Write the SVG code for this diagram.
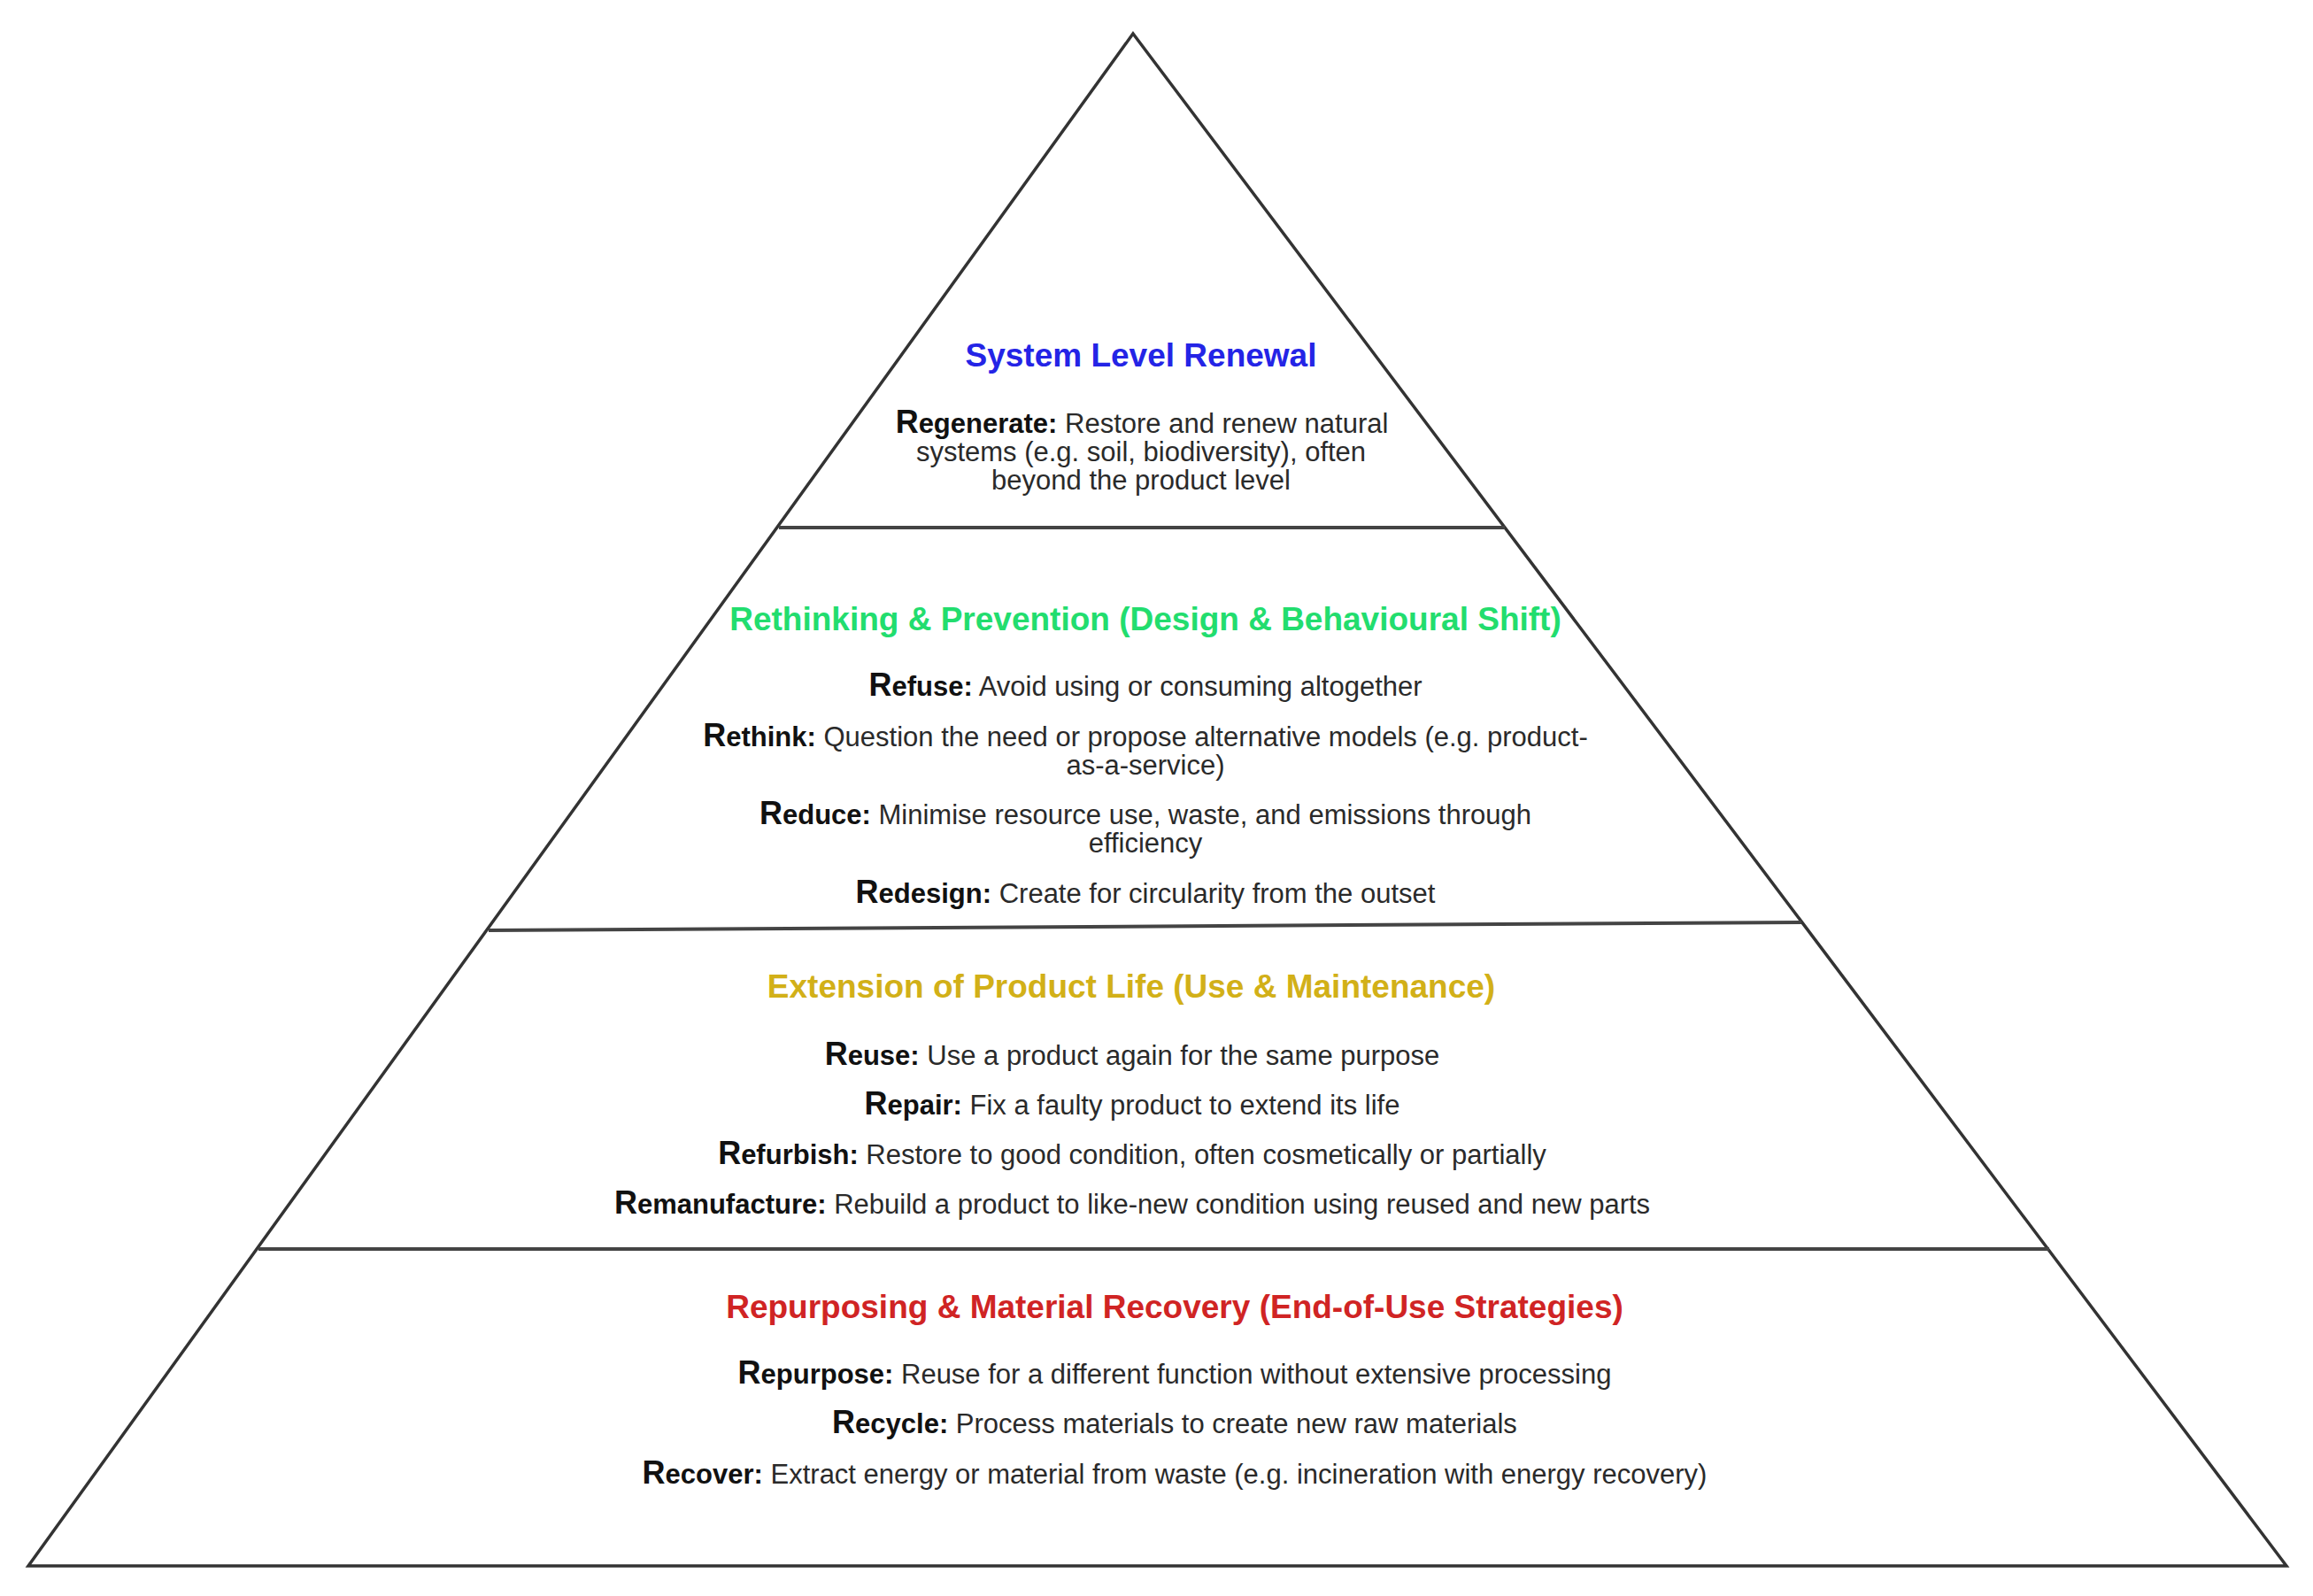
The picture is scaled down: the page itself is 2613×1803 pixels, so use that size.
<svg xmlns="http://www.w3.org/2000/svg" width="2613" height="1803" viewBox="0 0 2613 1803">
<style>
.line{fill:none;stroke:#333;stroke-width:3.5;stroke-linejoin:miter}
.div{stroke:#444;stroke-width:4}
text{font-family:"Liberation Sans",Arial,Helvetica,sans-serif;text-anchor:middle}
.title{font-size:37px;font-weight:bold}
.body{font-size:31px;fill:#2a2a2a}
.b{font-weight:bold;fill:#111}
.cap{font-weight:bold;fill:#111;font-size:36px}
.blue{fill:#2424e6}
.green{fill:#22dd6e}
.gold{fill:#d2b018}
.red{fill:#d02424}
</style>
<rect width="2613" height="1803" fill="#fff"/>
<g id="pyramid-outline">
<polygon class="line" points="1280,38 2583,1769 32,1769"/>
</g>
<g id="connectors">
<line class="div" x1="880" y1="596" x2="1700" y2="596"/>
<line class="div" x1="552" y1="1051" x2="2035" y2="1042"/>
<line class="div" x1="292" y1="1411" x2="2315" y2="1411"/>
</g>
<g id="tier-system-level-renewal">
<text class="title blue" x="1289" y="414">System Level Renewal</text>
<text class="body" x="1290" y="489"><tspan class="cap">R</tspan><tspan class="b">egenerate:</tspan> Restore and renew natural</text>
<text class="body" x="1289" y="521">systems (e.g. soil, biodiversity), often</text>
<text class="body" x="1289" y="553">beyond the product level</text>
</g>
<g id="tier-rethinking-prevention">
<text class="title green" x="1294" y="712">Rethinking &amp; Prevention (Design &amp; Behavioural Shift)</text>
<text class="body" x="1294" y="786"><tspan class="cap">R</tspan><tspan class="b">efuse:</tspan> Avoid using or consuming altogether</text>
<text class="body" x="1294" y="843"><tspan class="cap">R</tspan><tspan class="b">ethink:</tspan> Question the need or propose alternative models (e.g. product-</text>
<text class="body" x="1294" y="875">as-a-service)</text>
<text class="body" x="1294" y="931"><tspan class="cap">R</tspan><tspan class="b">educe:</tspan> Minimise resource use, waste, and emissions through</text>
<text class="body" x="1294" y="963">efficiency</text>
<text class="body" x="1294" y="1020"><tspan class="cap">R</tspan><tspan class="b">edesign:</tspan> Create for circularity from the outset</text>
</g>
<g id="tier-extension-product-life">
<text class="title gold" x="1278" y="1127">Extension of Product Life (Use &amp; Maintenance)</text>
<text class="body" x="1279" y="1203"><tspan class="cap">R</tspan><tspan class="b">euse:</tspan> Use a product again for the same purpose</text>
<text class="body" x="1279" y="1259"><tspan class="cap">R</tspan><tspan class="b">epair:</tspan> Fix a faulty product to extend its life</text>
<text class="body" x="1279" y="1315"><tspan class="cap">R</tspan><tspan class="b">efurbish:</tspan> Restore to good condition, often cosmetically or partially</text>
<text class="body" x="1279" y="1371"><tspan class="cap">R</tspan><tspan class="b">emanufacture:</tspan> Rebuild a product to like-new condition using reused and new parts</text>
</g>
<g id="tier-repurposing-recovery">
<text class="title red" x="1327" y="1489">Repurposing &amp; Material Recovery (End-of-Use Strategies)</text>
<text class="body" x="1327" y="1563"><tspan class="cap">R</tspan><tspan class="b">epurpose:</tspan> Reuse for a different function without extensive processing</text>
<text class="body" x="1327" y="1619"><tspan class="cap">R</tspan><tspan class="b">ecycle:</tspan> Process materials to create new raw materials</text>
<text class="body" x="1327" y="1676"><tspan class="cap">R</tspan><tspan class="b">ecover:</tspan> Extract energy or material from waste (e.g. incineration with energy recovery)</text>
</g>
</svg>
